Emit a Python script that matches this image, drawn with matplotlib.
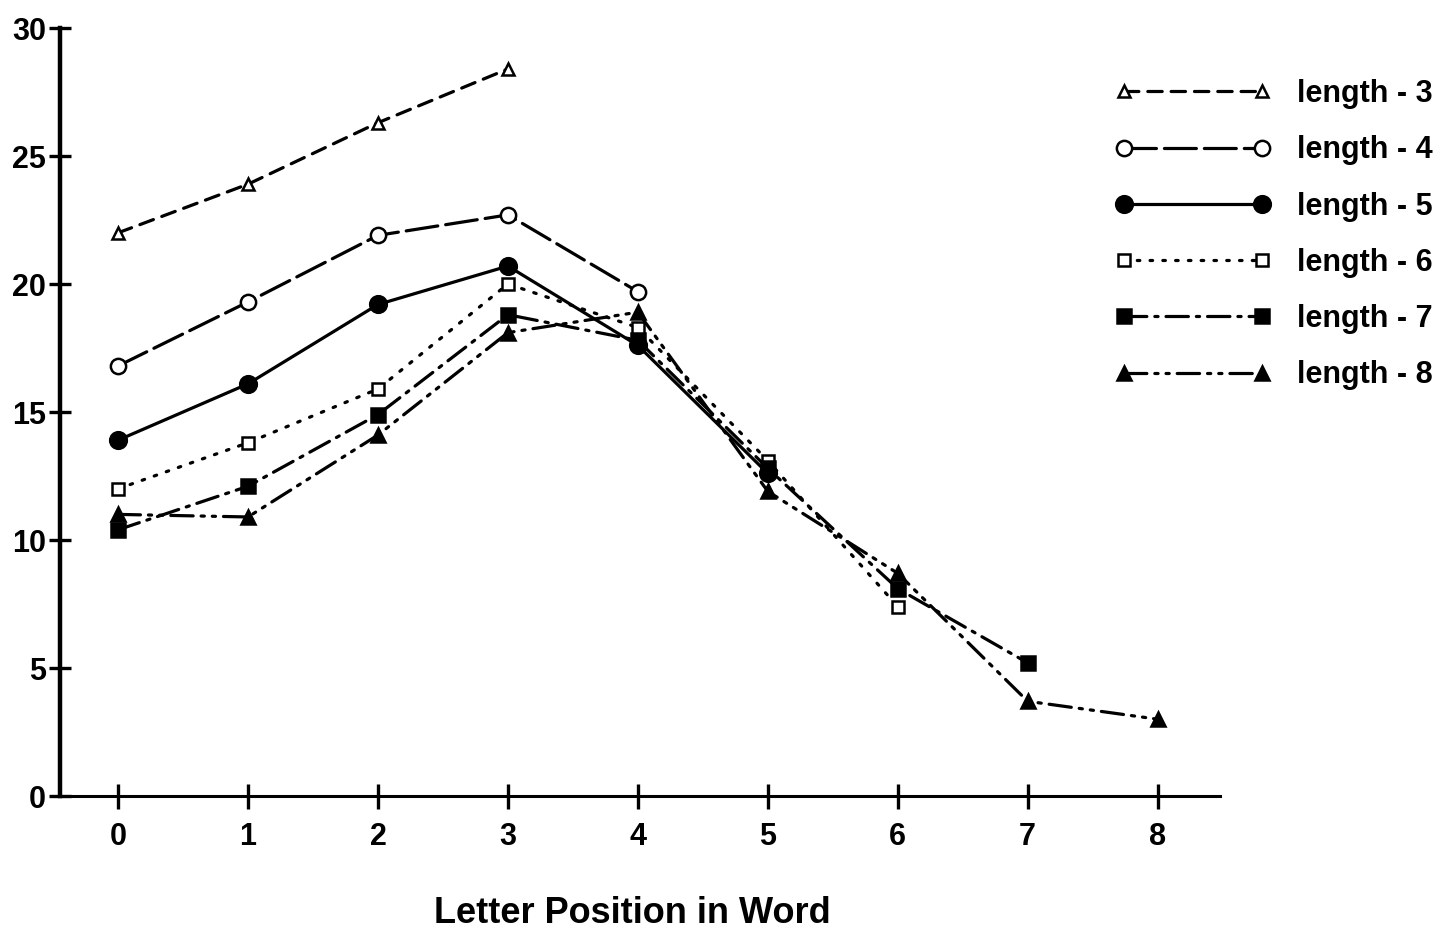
import matplotlib
matplotlib.use("Agg")
import matplotlib.pyplot as plt

plt.rcParams['font.family'] = ['Liberation Sans', 'DejaVu Sans']
plt.rcParams['font.weight'] = 'bold'

# values
len3 = [22.0, 23.9, 26.3, 28.4]
len4 = [16.8, 19.3, 21.9, 22.7, 19.7]
len5 = [13.9, 16.1, 19.2, 20.7, 17.6, 12.6]
len6 = [12.0, 13.8, 15.9, 20.0, 18.3, 13.1, 7.4]
len7 = [10.4, 12.1, 14.9, 18.8, 17.8, 12.8, 8.1, 5.2]
len8 = [11.0, 10.9, 14.1, 18.1, 18.9, 11.9, 8.7, 3.7, 3.0]
labels = ['length - 3', 'length - 4', 'length - 5', 'length - 6', 'length - 7', 'length - 8']

series = [len3, len4, len5, len6, len7, len8]
styles = [
    dict(ls=(0, (4.5, 2.8)), marker='^', mfc='white', ms=9),
    dict(ls=(0, (10, 2.5)), marker='o', mfc='white', ms=11),
    dict(ls='-', marker='o', mfc='black', ms=12),
    dict(ls=(0, (0.8, 3.2)), marker='s', mfc='white', ms=8),
    dict(ls=(0, (7, 2.5, 1, 2.5)), marker='s', mfc='black', ms=10),
    dict(ls=(0, (7, 2.5, 1, 2.5, 1, 2.5)), marker='^', mfc='black', ms=10),
]

fig = plt.figure(figsize=(14.39, 9.30), dpi=100)
ax = fig.add_axes([60 / 1439, 134 / 930, 1160 / 1439, 768 / 930])

for vals, lab, st in zip(series, labels, styles):
    ax.plot(range(len(vals)), vals, color='black', lw=2.3, mec='black', mew=1.8,
            dash_capstyle='round', label=lab, **st)

ax.set_xlim(-0.447, 8.48)
ax.set_ylim(0, 30)
ax.set_xticks(range(9))
ax.set_yticks(range(0, 31, 5))

for s in ['top', 'right']:
    ax.spines[s].set_visible(False)
ax.spines['left'].set_linewidth(3.2)
ax.spines['bottom'].set_linewidth(2.2)

ax.tick_params(axis='y', direction='inout', length=16, width=2.4, labelsize=22, pad=2)
ax.tick_params(axis='x', direction='inout', length=18, width=2.4, labelsize=22, pad=10)
for t in ax.get_xticklabels() + ax.get_yticklabels():
    t.set_fontweight('bold')

ax.set_xlabel('Letter Position in Word', fontsize=26, fontweight='bold')
ax.xaxis.set_label_coords(0.493, -0.130)

ax.legend(loc='upper left', bbox_to_anchor=(1055 / 1160, 1 - 51 / 768), frameon=False,
          fontsize=22, numpoints=2, handlelength=5.1, handletextpad=0.85, labelspacing=0.86,
          borderpad=0, borderaxespad=0)

fig.savefig('out.png', dpi=100)
